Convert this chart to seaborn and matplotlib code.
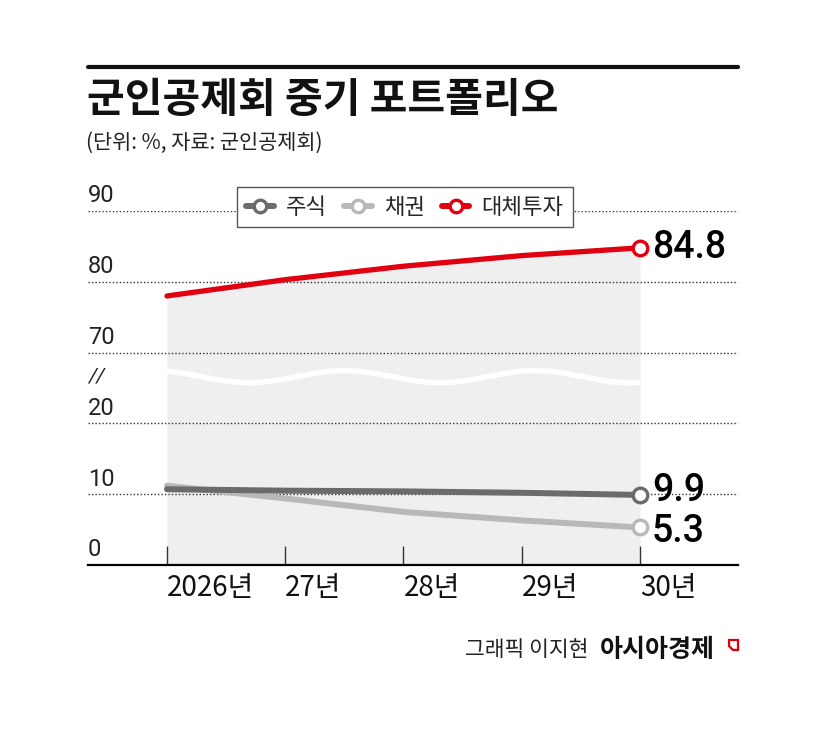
import numpy as np
import pandas as pd
import seaborn as sns
import matplotlib.pyplot as plt
from matplotlib.lines import Line2D
from matplotlib.patches import Polygon
from matplotlib.legend_handler import HandlerLine2D

# data (percent), read from the graphic
years = ['2026년', '27년', '28년', '29년', '30년']
stocks = [10.7, 10.5, 10.4, 10.2, 9.9]     # 주식
bonds = [11.2, 9.4, 7.5, 6.3, 5.3]         # 채권
alts = [78.0, 80.3, 82.2, 83.7, 84.8]      # 대체투자
ytick_vals = [0, 10, 20, 70, 80, 90]

c_stock = '#6b6b6b'
c_bond = '#b8b8b8'
c_alt = '#e1000f'

num_font = ['Roboto', 'DejaVu Sans']


def to_axis(v):
    # broken axis: 0-20 on the bottom, 70-90 on top
    v = np.asarray(v, dtype=float)
    return np.where(v <= 20, v / 10.0, 3 + (v - 70) / 10.0)


class EndMarkerHandler(HandlerLine2D):
    # line with the circle at its right end
    def get_xdata(self, legend, xdescent, ydescent, width, height, fontsize):
        xdata = np.array([-xdescent, -xdescent + width])
        return xdata, np.array([-xdescent + width])


sns.set_theme(style='white')
plt.rcParams['font.family'] = ['Noto Sans CJK KR', 'DejaVu Sans']

pos = np.arange(len(years))
df = pd.DataFrame({
    'pos': np.tile(pos, 3),
    'val': stocks + bonds + alts,
    'series': ['주식'] * 5 + ['채권'] * 5 + ['대체투자'] * 5,
})
df['yt'] = to_axis(df['val'])

fig = plt.figure(figsize=(8.28, 7.34), dpi=100)
ax = fig.add_axes([88 / 828, (734 - 565) / 734, 650 / 828, (565 - 211) / 734])

xpx = 118.25
ax.set_xlim(-79 / xpx, (738 - 167) / xpx)
ax.set_ylim(0, 5)

# grey area under the alternative-investment line
alt_t = to_axis(alts)
ax.fill_between(pos, 0, alt_t, color='#efefef', lw=0, zorder=0)

# white wavy break mark
wx = np.linspace(0, 4, 300)
wy = 2.66 + 0.085 * np.cos(2 * np.pi * (wx - 1.5) / 1.61)
ax.plot(wx, wy, color='white', lw=4, zorder=1, solid_capstyle='butt')

# gridlines
ax.set_yticks(to_axis(ytick_vals))
ax.set_yticklabels([])
ax.yaxis.grid(True, color='#333333', linestyle=(0, (1, 1.5)), linewidth=1.0)
ax.set_axisbelow(False)
ax.tick_params(axis='y', length=0)

# end labels: small nudge keeps 9.9 and 5.3 apart
nudge = {'주식': 0.06, '채권': -0.06, '대체투자': 0.0}
for sub, col, lw in [('채권', c_bond, 4.3), ('주식', c_stock, 4.3), ('대체투자', c_alt, 3.8)]:
    sns.lineplot(data=df[df.series == sub], x='pos', y='yt', color=col,
                 linewidth=lw, solid_capstyle='round', ax=ax, zorder=3,
                 legend=False)
    last = df[df.series == sub].iloc[[-1]]
    sns.scatterplot(data=last, x='pos', y='yt', color='white', edgecolor=col,
                    linewidth=2.4, s=110, ax=ax, zorder=4, legend=False)
    ax.text(last.pos.iloc[0] + 0.1, last.yt.iloc[0] + nudge[sub],
            '{:.1f}'.format(last.val.iloc[0]), family=num_font,
            fontsize=27, fontweight='medium', color='black', va='center',
            ha='left', zorder=5)

# y labels above the gridlines
ytf = ax.get_yaxis_transform()
for v in ytick_vals:
    ax.text(0, float(to_axis(v)) + 0.05, str(v), transform=ytf, fontsize=17,
            family=num_font, color='#222222', ha='left', va='bottom')
ax.text(0, 2.66, '//', transform=ytf, fontsize=15, family=num_font,
        color='#222222', ha='left', va='center', style='italic')

# x axis
ax.set_xticks(pos)
ax.set_xticklabels(years)
ax.tick_params(axis='x', bottom=True, direction='in', length=14, width=1,
               color='#333333', pad=6, labelsize=20, labelcolor='#111111')
for t in ax.get_xticklabels():
    t.set_ha('left')
ax.set_xlabel('')
ax.set_ylabel('')
for s in ['top', 'left', 'right']:
    ax.spines[s].set_visible(False)
ax.spines['bottom'].set_color('black')
ax.spines['bottom'].set_linewidth(1.6)
ax.spines['bottom'].set_zorder(6)

# legend
handles = []
for col in [c_stock, c_bond, c_alt]:
    handles.append(Line2D([], [], color=col, lw=4.3, marker='o', markersize=9,
                          markerfacecolor='white', markeredgecolor=col,
                          markeredgewidth=2.4))
leg = fig.legend(handles, ['주식', '채권', '대체투자'], loc='center',
                 bbox_to_anchor=(405 / 828, (734 - 207) / 734), ncol=3,
                 fontsize=16, frameon=True, fancybox=False, framealpha=1,
                 edgecolor='#555555', handlelength=1.25, handletextpad=0.55,
                 columnspacing=0.75, borderpad=0.4,
                 handler_map={Line2D: EndMarkerHandler(numpoints=1)})
leg.get_frame().set_linewidth(1.0)

# header
fig.add_artist(Line2D([88 / 828, 738 / 828], [(734 - 67) / 734] * 2,
                      color='#111111', lw=3))
fig.text(87 / 828, (734 - 100) / 734, '군인공제회 중기 포트폴리오', fontsize=29.5,
         fontweight='bold', color='#111111', ha='left', va='center')
fig.text(86 / 828, (734 - 143) / 734, '(단위: %, 자료: 군인공제회)', fontsize=15,
         color='#222222', ha='left', va='center')

# footer
fig.text(588 / 828, (734 - 650) / 734, '그래픽 이지현', fontsize=15.5,
         color='#222222', ha='right', va='center')
fig.text(600 / 828, (734 - 650) / 734, '아시아경제', fontsize=18,
         fontweight='bold', color='#111111', ha='left', va='center')
logo = [(729, 640), (738, 640), (738, 650), (733, 650), (729, 646)]
fig.add_artist(Polygon([(x / 828, (734 - y) / 734) for x, y in logo],
                       closed=True, fill=False, edgecolor=c_alt, lw=1.6))

fig.savefig('out.png', dpi=100)
